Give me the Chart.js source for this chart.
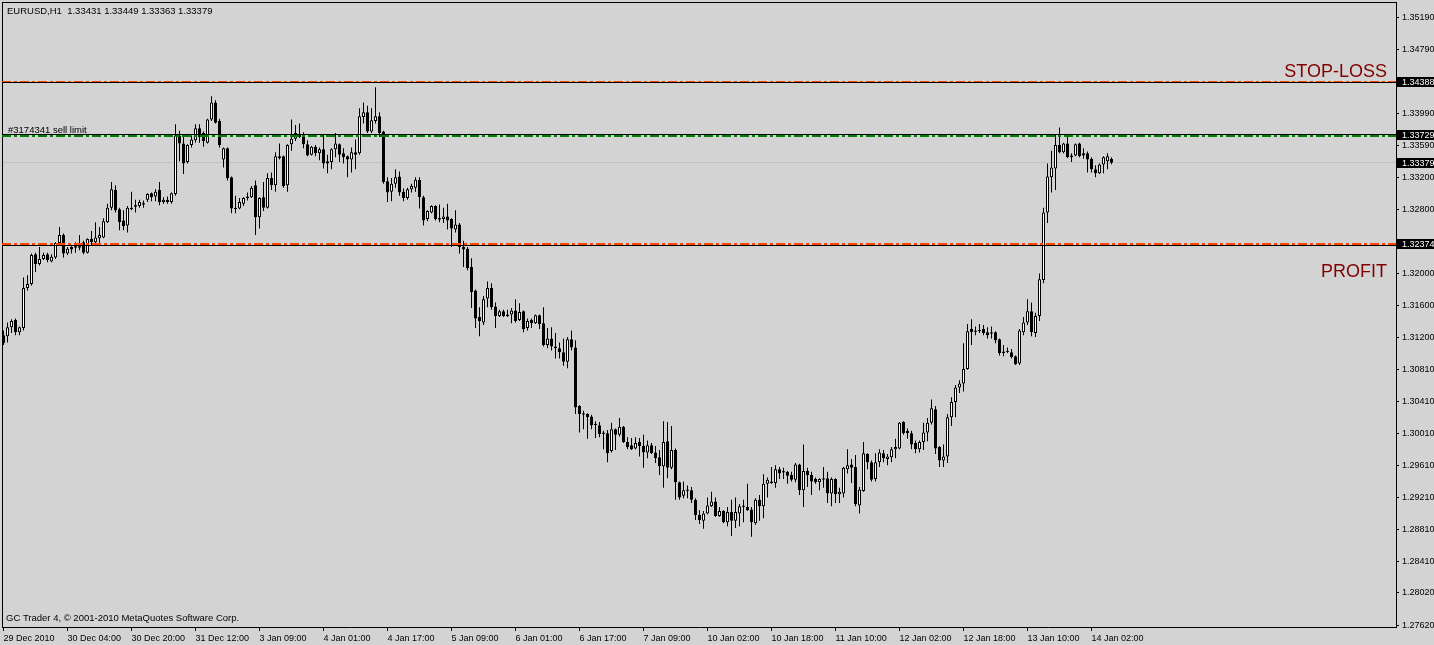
<!DOCTYPE html>
<html><head><meta charset="utf-8">
<script src="https://cdn.jsdelivr.net/npm/chart.js@4.4.0/dist/chart.umd.min.js"></script>
<style>html,body{margin:0;padding:0;background:#D3D3D3;overflow:hidden}canvas{display:block;background:#D3D3D3}</style>
</head><body>
<canvas id="c" width="1434" height="645"></canvas>
<script>
// EURUSD H1, hourly bars starting 29 Dec 2010 12:00 (bar index 0)
const open = [
1.3123,1.3122,1.3133,1.3142,1.3127,1.3132,1.3182,1.3187,1.3224,1.3212,
1.3218,1.3224,1.3215,1.3220,1.3238,1.3248,1.3225,1.3233,1.3234,1.3234,
1.3239,1.3226,1.3243,1.3239,1.3244,1.3245,1.3264,1.3282,1.3304,1.3280,
1.3266,1.3260,1.3282,1.3285,1.3284,1.3286,1.3292,1.3300,1.3296,1.3304,
1.3289,1.3292,1.3289,1.3299,1.3372,1.3362,1.3339,1.3360,1.3366,1.3381,
1.3375,1.3363,1.3392,1.3413,1.3390,1.3342,1.3356,1.3320,1.3281,1.3281,
1.3287,1.3294,1.3295,1.3310,1.3270,1.3295,1.3282,1.3319,1.3310,1.3346,
1.3346,1.3310,1.3361,1.3368,1.3373,1.3372,1.3361,1.3348,1.3358,1.3350,
1.3355,1.3340,1.3339,1.3355,1.3361,1.3350,1.3346,1.3342,1.3351,1.3350,
1.3395,1.3401,1.3377,1.3390,1.3396,1.3377,1.3315,1.3302,1.3312,1.3321,
1.3302,1.3294,1.3305,1.3307,1.3317,1.3295,1.3268,1.3276,1.3284,1.3269,
1.3268,1.3271,1.3268,1.3255,1.3261,1.3233,1.3231,1.3208,1.3179,1.3146,
1.3139,1.3169,1.3182,1.3159,1.3147,1.3153,1.3149,1.3149,1.3154,1.3142,
1.3153,1.3132,1.3142,1.3138,1.3148,1.3138,1.3111,1.3119,1.3109,1.3107,
1.3102,1.3090,1.3118,1.3108,1.3035,1.3025,1.3025,1.3022,1.3012,1.3011,
1.3001,1.3001,1.2979,1.3006,1.2999,1.3009,1.2990,1.2986,1.2982,1.2990,
1.2985,1.2977,1.2986,1.2977,1.2971,1.2960,1.2991,1.2958,1.2980,1.2940,
1.2923,1.2930,1.2930,1.2918,1.2899,1.2892,1.2901,1.2910,1.2916,1.2898,
1.2904,1.2890,1.2903,1.2892,1.2901,1.2910,1.2909,1.2906,1.2889,1.2918,
1.2910,1.2938,1.2941,1.2939,1.2956,1.2953,1.2953,1.2949,1.2943,1.2962,
1.2930,1.2954,1.2949,1.2944,1.2940,1.2944,1.2945,1.2926,1.2944,1.2925,
1.2926,1.2956,1.2962,1.2959,1.2911,1.2929,1.2975,1.2965,1.2944,1.2965,
1.2976,1.2969,1.2971,1.2981,1.2982,1.3015,1.3004,1.3001,1.2989,1.2981,
1.2990,1.3002,1.3014,1.3031,1.2984,1.2967,1.2972,1.3021,1.3040,1.3058,
1.3063,1.3081,1.3131,1.3128,1.3129,1.3131,1.3127,1.3126,1.3127,1.3118,
1.3103,1.3103,1.3102,1.3097,1.3088,1.3127,1.3139,1.3153,1.3126,1.3147,
1.3192,1.3276,1.3320,1.3331,1.3360,1.3351,1.3362,1.3345,1.3347,1.3362,
1.3350,1.3350,1.3343,1.3330,1.3325,1.3336,1.3340,1.33431];
const high = [
1.3129,1.3139,1.3143,1.3144,1.3134,1.3195,1.3198,1.3225,1.3226,1.3233,
1.3226,1.3226,1.3224,1.3239,1.3258,1.3250,1.3233,1.3234,1.3239,1.3248,
1.3241,1.3244,1.3253,1.3264,1.3258,1.3269,1.3287,1.3314,1.3310,1.3282,
1.3279,1.3284,1.3302,1.3292,1.3292,1.3291,1.3300,1.3301,1.3305,1.3314,
1.3295,1.3296,1.3301,1.3386,1.3378,1.3372,1.3361,1.3372,1.3386,1.3386,
1.3377,1.3393,1.3421,1.3416,1.3393,1.3357,1.3357,1.3321,1.3297,1.3294,
1.3295,1.3301,1.3309,1.3316,1.3295,1.3314,1.3325,1.3326,1.3351,1.3362,
1.3347,1.3361,1.3392,1.3385,1.3387,1.3376,1.3366,1.3359,1.3360,1.3357,
1.3373,1.3348,1.3356,1.3375,1.3362,1.3356,1.3347,1.3357,1.3367,1.3406,
1.3413,1.3409,1.3406,1.3432,1.3401,1.3378,1.3320,1.3319,1.3330,1.3327,
1.3306,1.3307,1.3312,1.3320,1.3320,1.3297,1.3279,1.3285,1.3285,1.3286,
1.3282,1.3287,1.3269,1.3279,1.3263,1.3241,1.3233,1.3219,1.3180,1.3158,
1.3172,1.3190,1.3188,1.3164,1.3155,1.3155,1.3155,1.3157,1.3168,1.3163,
1.3154,1.3144,1.3144,1.3149,1.3149,1.3158,1.3132,1.3133,1.3126,1.3114,
1.3119,1.3121,1.3129,1.3117,1.3036,1.3029,1.3026,1.3024,1.3016,1.3015,
1.3004,1.3005,1.3014,1.3007,1.3020,1.3010,1.2996,1.2995,1.2996,1.2995,
1.2999,1.2992,1.2989,1.2985,1.2980,1.3016,1.3015,1.3010,1.2982,1.2941,
1.2941,1.2936,1.2934,1.2920,1.2905,1.2904,1.2921,1.2928,1.2921,1.2909,
1.2905,1.2909,1.2918,1.2921,1.2913,1.2918,1.2938,1.2909,1.2920,1.2924,
1.2950,1.2946,1.2959,1.2961,1.2959,1.2958,1.2954,1.2953,1.2964,1.2963,
1.2987,1.2958,1.2953,1.2946,1.2945,1.2959,1.2953,1.2946,1.2945,1.2933,
1.2959,1.2981,1.2969,1.2974,1.2934,1.2990,1.2976,1.2967,1.2976,1.2981,
1.2980,1.2975,1.2984,1.2994,1.3015,1.3016,1.3007,1.3004,1.2992,1.2992,
1.3014,1.3020,1.3043,1.3035,1.2985,1.2987,1.3025,1.3046,1.3061,1.3067,
1.3113,1.3137,1.3143,1.3134,1.3137,1.3136,1.3133,1.3134,1.3128,1.3119,
1.3111,1.3108,1.3106,1.3098,1.3131,1.3146,1.3168,1.3164,1.3151,1.3200,
1.3282,1.3337,1.3353,1.3373,1.3382,1.3363,1.3370,1.3350,1.3362,1.3363,
1.3356,1.3352,1.3345,1.3335,1.3337,1.3346,1.3350,1.33449];
const low = [
1.3111,1.3114,1.3126,1.3123,1.3123,1.3129,1.3179,1.3185,1.3202,1.3210,
1.3217,1.3214,1.3214,1.3218,1.3235,1.3220,1.3223,1.3225,1.3226,1.3229,
1.3224,1.3225,1.3235,1.3235,1.3238,1.3244,1.3263,1.3279,1.3276,1.3254,
1.3254,1.3251,1.3279,1.3276,1.3282,1.3282,1.3289,1.3290,1.3290,1.3285,
1.3287,1.3287,1.3287,1.3297,1.3340,1.3324,1.3337,1.3357,1.3363,1.3363,
1.3358,1.3362,1.3390,1.3387,1.3357,1.3332,1.3316,1.3275,1.3275,1.3280,
1.3284,1.3291,1.3294,1.3248,1.3256,1.3278,1.3281,1.3304,1.3302,1.3342,
1.3307,1.3302,1.3353,1.3365,1.3369,1.3356,1.3346,1.3347,1.3346,1.3341,
1.3331,1.3325,1.3330,1.3345,1.3339,1.3337,1.3320,1.3326,1.3330,1.3348,
1.3387,1.3375,1.3375,1.3387,1.3370,1.3312,1.3289,1.3290,1.3307,1.3297,
1.3290,1.3292,1.3301,1.3302,1.3281,1.3260,1.3265,1.3275,1.3266,1.3264,
1.3263,1.3255,1.3233,1.3251,1.3225,1.3208,1.3204,1.3157,1.3132,1.3122,
1.3136,1.3158,1.3155,1.3132,1.3146,1.3146,1.3146,1.3138,1.3139,1.3141,
1.3127,1.3129,1.3132,1.3137,1.3131,1.3109,1.3107,1.3104,1.3094,1.3094,
1.3085,1.3082,1.3104,1.3025,1.3002,1.3006,1.2994,1.3006,1.2995,1.2996,
1.2981,1.2965,1.2977,1.2980,1.2997,1.2989,1.2981,1.2980,1.2981,1.2972,
1.2958,1.2970,1.2975,1.2964,1.2949,1.2933,1.2945,1.2956,1.2918,1.2918,
1.2920,1.2920,1.2914,1.2893,1.2888,1.2882,1.2900,1.2909,1.2897,1.2897,
1.2889,1.2885,1.2873,1.2883,1.2885,1.2890,1.2904,1.2872,1.2887,1.2892,
1.2895,1.2921,1.2938,1.2933,1.2944,1.2944,1.2938,1.2941,1.2940,1.2924,
1.2909,1.2934,1.2924,1.2938,1.2930,1.2933,1.2914,1.2910,1.2914,1.2914,
1.2921,1.2951,1.2939,1.2910,1.2901,1.2928,1.2956,1.2941,1.2941,1.2959,
1.2965,1.2961,1.2965,1.2970,1.2981,1.2999,1.2994,1.2981,1.2976,1.2977,
1.2980,1.2991,1.3012,1.2975,1.2959,1.2959,1.2964,1.3010,1.3021,1.3051,
1.3053,1.3080,1.3111,1.3123,1.3126,1.3123,1.3119,1.3119,1.3113,1.3098,
1.3097,1.3101,1.3094,1.3086,1.3086,1.3123,1.3136,1.3122,1.3121,1.3141,
1.3188,1.3263,1.3301,1.3304,1.3350,1.3350,1.3344,1.3339,1.3346,1.3345,
1.3343,1.3326,1.3326,1.3320,1.3324,1.3325,1.3330,1.33363];
const close = [
1.3113,1.3133,1.3141,1.3127,1.3133,1.3182,1.3187,1.3223,1.3212,1.3218,
1.3223,1.3217,1.3221,1.3238,1.3248,1.3225,1.3231,1.3230,1.3233,1.3233,
1.3226,1.3243,1.3239,1.3245,1.3248,1.3265,1.3282,1.3305,1.3279,1.3264,
1.3259,1.3282,1.3280,1.3284,1.3289,1.3287,1.3299,1.3295,1.3302,1.3289,
1.3292,1.3289,1.3300,1.3372,1.3362,1.3337,1.3360,1.3367,1.3381,1.3370,
1.3365,1.3392,1.3413,1.3388,1.3360,1.3356,1.3319,1.3281,1.3281,1.3289,
1.3294,1.3296,1.3307,1.3270,1.3294,1.3282,1.3319,1.3310,1.3346,1.3344,
1.3309,1.3360,1.3368,1.3375,1.3370,1.3361,1.3347,1.3358,1.3350,1.3355,
1.3337,1.3337,1.3355,1.3362,1.3348,1.3345,1.3342,1.3351,1.3348,1.3396,
1.3401,1.3377,1.3391,1.3396,1.3375,1.3314,1.3301,1.3312,1.3320,1.3301,
1.3294,1.3305,1.3309,1.3317,1.3295,1.3266,1.3278,1.3284,1.3268,1.3268,
1.3271,1.3266,1.3256,1.3261,1.3233,1.3230,1.3207,1.3177,1.3144,1.3141,
1.3168,1.3182,1.3158,1.3147,1.3153,1.3147,1.3147,1.3154,1.3141,1.3152,
1.3131,1.3141,1.3138,1.3148,1.3137,1.3111,1.3119,1.3109,1.3107,1.3102,
1.3090,1.3118,1.3108,1.3033,1.3025,1.3025,1.3021,1.3011,1.3012,1.3000,
1.3001,1.2976,1.3006,1.2999,1.3009,1.2990,1.2984,1.2981,1.2989,1.2985,
1.2977,1.2986,1.2976,1.2970,1.2960,1.2990,1.2958,1.2980,1.2940,1.2921,
1.2930,1.2930,1.2918,1.2899,1.2893,1.2901,1.2911,1.2916,1.2898,1.2904,
1.2890,1.2903,1.2892,1.2903,1.2910,1.2910,1.2905,1.2890,1.2918,1.2910,
1.2938,1.2943,1.2939,1.2956,1.2951,1.2953,1.2948,1.2943,1.2962,1.2930,
1.2954,1.2949,1.2941,1.2940,1.2944,1.2944,1.2926,1.2944,1.2925,1.2928,
1.2958,1.2961,1.2958,1.2913,1.2931,1.2976,1.2965,1.2943,1.2965,1.2977,
1.2970,1.2972,1.2981,1.2984,1.3014,1.3001,1.3001,1.2987,1.2981,1.2990,
1.3002,1.3014,1.3032,1.2982,1.2967,1.2972,1.3021,1.3040,1.3058,1.3063,
1.3081,1.3128,1.3127,1.3128,1.3129,1.3126,1.3123,1.3126,1.3117,1.3101,
1.3101,1.3103,1.3096,1.3087,1.3129,1.3139,1.3153,1.3127,1.3147,1.3193,
1.3276,1.3321,1.3332,1.3360,1.3351,1.3362,1.3345,1.3347,1.3361,1.3346,
1.3347,1.3342,1.3330,1.3325,1.3336,1.3345,1.3346,1.33379];

const categories = open.map((_, i) => i);            // bar index
const xTickLabels = ["29 Dec 2010","30 Dec 04:00","30 Dec 20:00","31 Dec 12:00","3 Jan 09:00","4 Jan 01:00",
  "4 Jan 17:00","5 Jan 09:00","6 Jan 01:00","6 Jan 17:00","7 Jan 09:00","10 Jan 02:00","10 Jan 18:00",
  "11 Jan 10:00","12 Jan 02:00","12 Jan 18:00","13 Jan 10:00","14 Jan 02:00"];
const xTickBars = [0,16,32,48,64,80,96,112,128,144,160,176,192,208,224,240,256,272];
const yTickLabels = ["1.35190","1.34790","1.33990","1.33590","1.33200","1.32800","1.32000","1.31600",
  "1.31200","1.30810","1.30410","1.30010","1.29610","1.29210","1.28810","1.28410","1.28020","1.27620"];
const stopLoss = 1.34388, entryPrice = 1.33729, bidPrice = 1.33379, takeProfit = 1.32374;
const titleText = "EURUSD,H1  1.33431 1.33449 1.33363 1.33379";
const orderText = "#3174341 sell limit";
const copyText = "GC Trader 4, \u00A9 2001-2010 MetaQuotes Software Corp.";

const FONT = "'Liberation Sans', Arial, sans-serif";
const BAR_STEP = 4; // pixels per hourly bar

const wickData = categories.map(i => ({x: i, y: [low[i], high[i]]}));
const bodyData = categories.map(i => ({x: i, y: [Math.min(open[i], close[i]), Math.max(open[i], close[i])]}));
const bodyColors = categories.map(i => close[i] >= open[i] ? '#FFFFFF' : '#000000');
const dojiData = categories.filter(i => Math.abs(open[i] - close[i]) < 0.00015).map(i => ({x: i, y: close[i]}));

const overlay = {
  id: 'overlay',
  // keep every bar centred on a half pixel so 1px/3px candles stay crisp
  afterLayout(chart) {
    const xs = chart.scales.x, a = chart.chartArea;
    const target = Math.floor(a.left) + 1.5;           // pixel centre for bar 0
    const min = -(target - a.left) / BAR_STEP;
    xs.min = min;
    xs.max = min + (a.right - a.left) / BAR_STEP;
    xs.configure();
  },
  beforeDatasetsDraw(chart) {
    const {ctx, chartArea: a, scales: {y}} = chart;
    const py = Math.floor(y.getPixelForValue(bidPrice));
    ctx.save();
    ctx.fillStyle = '#C0C0C0';
    ctx.fillRect(a.left, py, a.right - a.left, 1);
    ctx.restore();
  },
  afterDraw(chart) {
    const {ctx, chartArea: a, scales: {y}, width} = chart;
    const L = Math.floor(a.left), T = Math.floor(a.top);
    ctx.save();
    // frame
    ctx.fillStyle = '#000';
    ctx.fillRect(L, T, a.right - L + 1, 1);
    ctx.fillRect(L, T, 1, a.bottom - T);
    // order level lines: [price, colour, colour width, colour row offset, black row offset]
    [[stopLoss, '#FF4500', 1, 0, 1], [entryPrice, '#008000', 2, 1, 0], [takeProfit, '#FF4500', 2, 0, 2]]
      .forEach(([v, col, w, cOff, bOff]) => {
        const py = Math.floor(y.getPixelForValue(v));
        ctx.setLineDash([]);
        ctx.fillStyle = '#000';
        ctx.fillRect(L, py + bOff, a.right - L, 1);
        ctx.lineWidth = w;
        ctx.strokeStyle = col;
        ctx.setLineDash([9, 3, 3, 3]);
        const cy = py + cOff + w / 2;
        ctx.beginPath(); ctx.moveTo(L, cy); ctx.lineTo(a.right, cy); ctx.stroke();
      });
    ctx.setLineDash([]);
    // texts
    ctx.fillStyle = '#000';
    ctx.textAlign = 'left';
    ctx.textBaseline = 'alphabetic';
    ctx.font = '9.5px ' + FONT;
    ctx.fillText(titleText, 7, 14);
    ctx.fillText(copyText, 6, 621);
    ctx.fillText(orderText, L + 6, Math.floor(y.getPixelForValue(entryPrice)) - 1);
    ctx.fillStyle = '#800000';
    ctx.font = '18px ' + FONT;
    ctx.textAlign = 'right';
    ctx.fillText('STOP-LOSS', 1387, Math.floor(y.getPixelForValue(stopLoss)) - 4);
    ctx.fillText('PROFIT', 1387, Math.floor(y.getPixelForValue(takeProfit)) + 34);
    // price boxes on the axis
    ctx.font = '9px ' + FONT;
    ctx.textAlign = 'left';
    ctx.textBaseline = 'middle';
    [stopLoss, entryPrice, bidPrice, takeProfit].forEach(v => {
      const py = Math.floor(y.getPixelForValue(v));
      ctx.fillStyle = '#000';
      ctx.fillRect(a.right + 1, py - 4, width - a.right - 1, 10);
      ctx.fillStyle = '#FFF';
      ctx.fillText(v.toFixed(5), a.right + 6, py + 1.5);
    });
    ctx.restore();
  }
};

new Chart(document.getElementById('c'), {
  type: 'bar',
  data: {
    datasets: [
      {type: 'line', data: dojiData, showLine: false, pointStyle: 'line', pointRadius: 1.5, pointHoverRadius: 1.5,
       pointBorderWidth: 1, borderColor: '#000', backgroundColor: '#000', order: 1},
      {data: bodyData, backgroundColor: bodyColors, borderColor: '#000', borderWidth: 1, borderSkipped: false,
       barThickness: 3, grouped: false, inflateAmount: 0, order: 2},
      {data: wickData, backgroundColor: '#000', borderWidth: 0, barThickness: 1, grouped: false, inflateAmount: 0, order: 3}
    ]
  },
  options: {
    responsive: false,
    devicePixelRatio: 1,
    animation: false,
    events: [],
    layout: {padding: {left: 1.5, top: 1.5, right: 0, bottom: 0}},
    plugins: {legend: {display: false}, tooltip: {enabled: false}, title: {display: false}},
    scales: {
      x: {
        type: 'linear', position: 'bottom', min: -0.375, max: 348.125, offset: false,
        afterBuildTicks: s => { s.ticks = xTickBars.map(v => ({value: v})); },
        afterFit: s => { s.height = 18; s.paddingLeft = 0; s.paddingRight = 0; s.paddingTop = 0; s.paddingBottom = 0; },
        ticks: {autoSkip: false, maxRotation: 0, minRotation: 0, align: 'start', padding: 2, color: '#000',
                font: {family: FONT, size: 9}, callback: (v, i) => xTickLabels[i]},
        grid: {display: true, drawOnChartArea: false, drawTicks: true, tickLength: 4, tickColor: '#000', offset: false},
        border: {display: true, color: '#000', width: 1}
      },
      y: {
        type: 'linear', position: 'right', min: 1.27596, max: 1.35377, beginAtZero: false, bounds: 'data',
        afterBuildTicks: s => { s.ticks = yTickLabels.map(t => ({value: parseFloat(t)})); },
        afterFit: s => { s.width = 38; s.paddingLeft = 0; s.paddingRight = 0; s.paddingTop = 0; s.paddingBottom = 0; },
        ticks: {padding: 3, color: '#000', font: {family: FONT, size: 9}, callback: (v, i) => yTickLabels[i]},
        grid: {display: true, drawOnChartArea: false, drawTicks: true, tickLength: 3, tickColor: '#000'},
        border: {display: true, color: '#000', width: 1}
      }
    }
  },
  plugins: [overlay]
});
</script>
</body></html>
